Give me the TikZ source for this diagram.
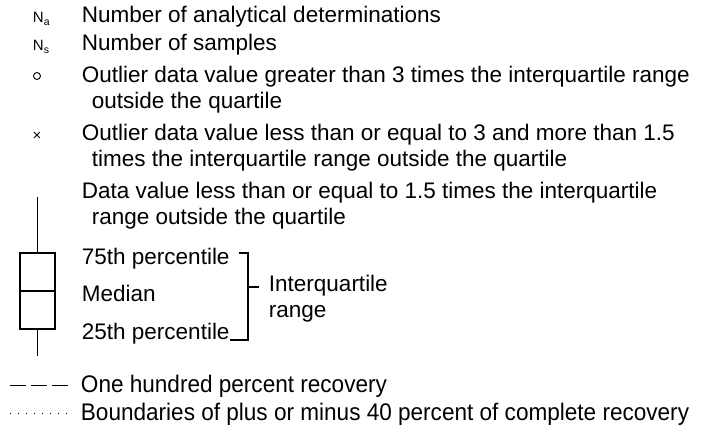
\documentclass[tikz,border=0pt]{standalone}
\usepackage{fontspec}
\setmainfont{Liberation Sans}
\newfontfamily\narrowsf[FakeStretch=0.94]{Liberation Sans}
\usetikzlibrary{positioning}

\begin{document}
\begin{tikzpicture}[x=1pt,y=-1pt,line width=1.9pt,
  txt/.style={anchor=base west,inner sep=0pt,font=\fontsize{22.5}{26}\selectfont},
  more/.style={txt,xshift=10pt},
  sym/.style={anchor=base west,inner sep=0pt,font=\fontsize{15}{16}\selectfont},
  cond/.style={anchor=base west,inner sep=0pt,font=\narrowsf\fontsize{24}{26}\selectfont}]
  \useasboundingbox (0,0) rectangle (701,427);

  \node[sym] (na) at (32,23) {N\textsubscript{a}};
  \node[txt] (ana) at (81,23) {Number of analytical determinations};
  \node[sym] (ns) at (32,51) {N\textsubscript{s}};
  \node[txt] (smp) at (81,51) {Number of samples};

  \node[circle,draw,line width=0.9pt,minimum size=7pt,inner sep=0pt] (far) at (37,76) {};
  \node[txt] (far1) at (81,83) {Outlier data value greater than 3 times the interquartile range};
  \node[more] (far2) at (81,109) {outside the quartile};

  \node[sym,anchor=base] (near) at (37,141) {×};
  \node[txt] (near1) at (81,141) {Outlier data value less than or equal to 3 and more than 1.5};
  \node[more] (near2) at (81,167) {times the interquartile range outside the quartile};

  \node[txt] (dv1) at (81,199) {Data value less than or equal to 1.5 times the interquartile};
  \node[more] (dv2) at (81,225) {range outside the quartile};

  \node[txt] (p75) at (81,265) {75th percentile};
  \node[txt] (med) at (81,302) {Median};
  \node[txt] (p25) at (81,339) {25th percentile};
  \node[txt] (iqr1) at (268,292) {Interquartile};
  \node[txt] (iqr2) at (268,318) {range};

  % box and whiskers
  \draw (37.5,197) -- (37.5,253);
  \draw (20,253) rectangle (55,329);
  \draw (20,291) -- (55,291);
  \draw (37.5,329) -- (37.5,356);

  % bracket
  \draw[line width=1.3pt] (239,253) -- (248,253) -- (248,340) -- (230,340);
  \draw[line width=1.3pt] (248,287) -- (259,287);

  \coordinate (d0) at (10,385);
  \coordinate (d1) at (68,385);
  \coordinate (s0) at (10,413);
  \coordinate (s1) at (68,413);
  \draw[line width=0.9pt,dash pattern=on 16pt off 5pt] (d0) -- (d1);
  \draw[line width=0.9pt,dash pattern=on 1pt off 7pt] (s0) -- (s1);
  \node[cond] (hundred) at (80,392) {One hundred percent recovery};
  \node[cond] (bounds) at (80,420) {Boundaries of plus or minus 40 percent of complete recovery};
\end{tikzpicture}
\end{document}
